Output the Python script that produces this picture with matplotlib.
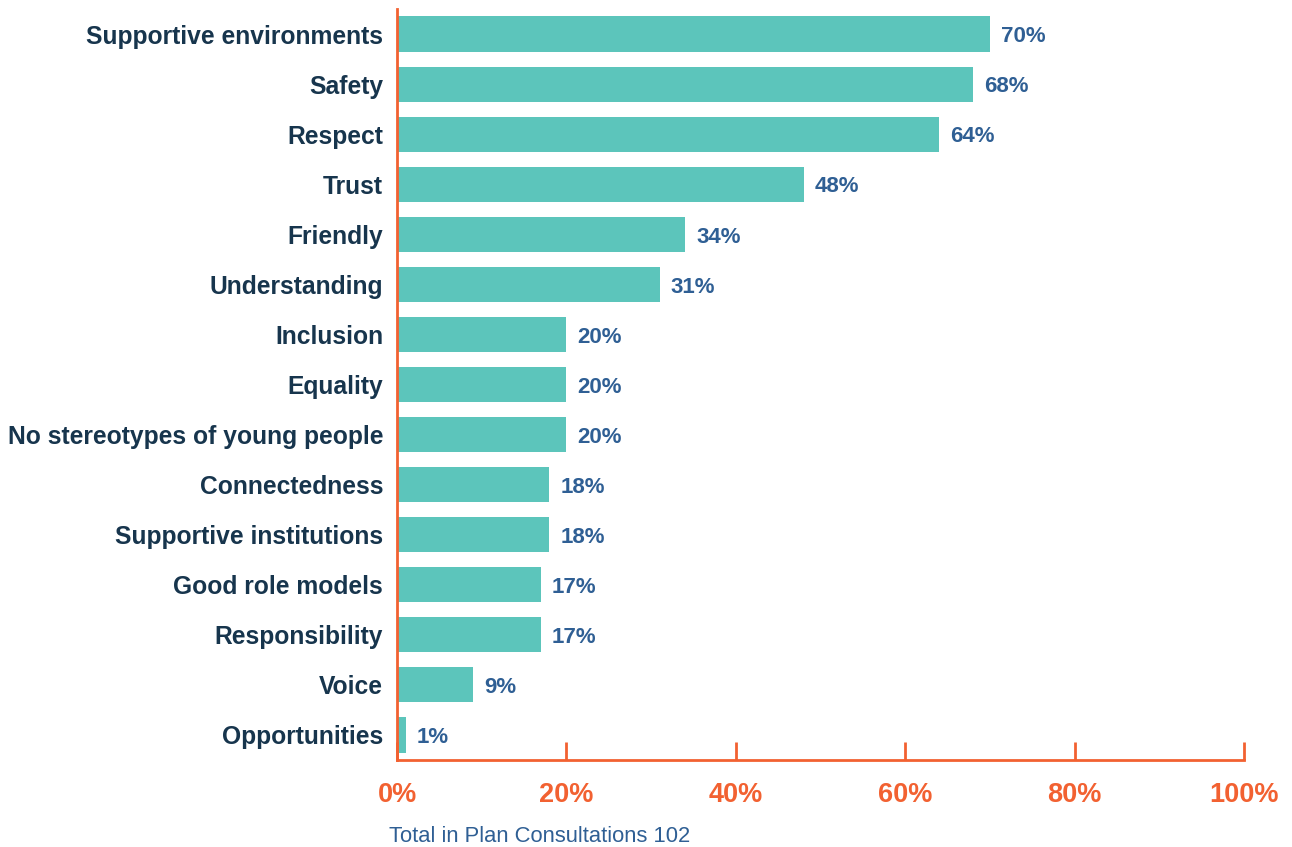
import matplotlib
matplotlib.use("Agg")
import matplotlib.pyplot as plt
from matplotlib.ticker import FuncFormatter

categories = ["Supportive environments", "Safety", "Respect", "Trust", "Friendly",
              "Understanding", "Inclusion", "Equality", "No stereotypes of young people",
              "Connectedness", "Supportive institutions", "Good role models",
              "Responsibility", "Voice", "Opportunities"]
values = [70, 68, 64, 48, 34, 31, 20, 20, 20, 18, 18, 17, 17, 9, 1]
xticks = [0, 20, 40, 60, 80, 100]
footnote = "Total in Plan Consultations 102"

TEAL = "#5cc5bb"
ORANGE = "#f26131"
NAVY = "#17354d"
BLUE = "#2f5f94"

plt.rcParams["font.family"] = ["Liberation Sans", "DejaVu Sans"]

fig = plt.figure(figsize=(12.92, 8.47), dpi=100)
ax = fig.add_axes([0.3073, 0.1027, 0.6555, 0.8867])

y = list(range(len(categories)))
ax.barh(y, values, height=0.7, color=TEAL)
ax.set_ylim(len(categories) - 0.5, -0.5)
ax.set_xlim(0, 100)

# value labels next to each bar
for yi, v in zip(y, values):
    ax.annotate(f"{v}%", (v, yi), xytext=(8, -2), textcoords="offset points",
                ha="left", va="center", fontsize=16, fontweight="bold", color=BLUE)

ax.set_yticks(y)
ax.set_yticklabels(categories, fontsize=17.7, fontweight="bold", color=NAVY)
ax.tick_params(axis="y", length=0, pad=10)

ax.set_xticks(xticks)
ax.xaxis.set_major_formatter(FuncFormatter(lambda x, p: f"{x:.0f}%"))
ax.tick_params(axis="x", direction="in", length=13, width=2, color=ORANGE,
               labelsize=19.5, labelcolor=ORANGE, pad=16)
for lab in ax.get_xticklabels():
    lab.set_fontweight("bold")

for s in ["top", "right"]:
    ax.spines[s].set_visible(False)
for s in ["left", "bottom"]:
    ax.spines[s].set_color(ORANGE)
    ax.spines[s].set_linewidth(2)

fig.text(389 / 1292, 1 - 836 / 847, footnote, fontsize=15.8, color=BLUE,
         ha="left", va="center")

fig.savefig("out.png", dpi=100)
